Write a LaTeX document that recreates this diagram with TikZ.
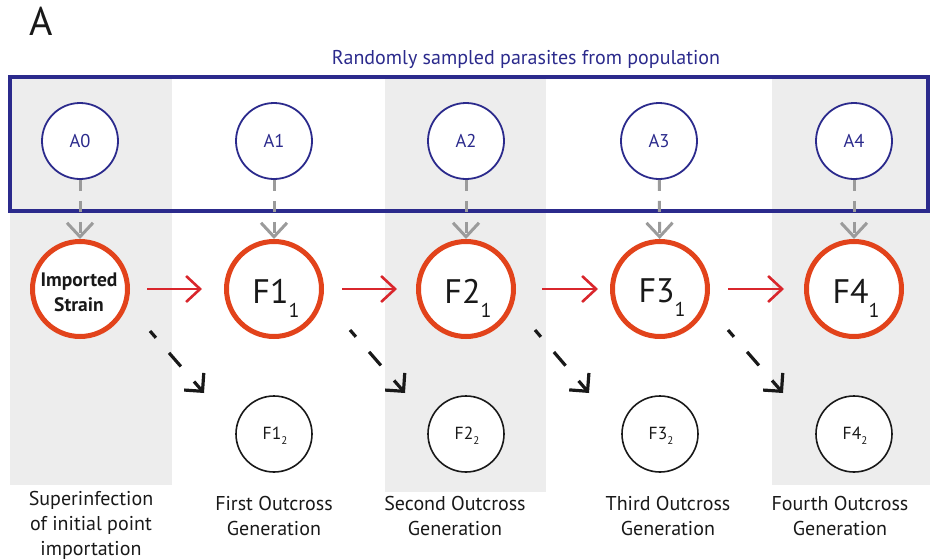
\documentclass[tikz,border=0pt]{standalone}
\usepackage{fontspec}
\setmainfont{PT Sans}
\usetikzlibrary{arrows.meta}
\definecolor{navy}{HTML}{2B2A8C}
\definecolor{ored}{HTML}{E2431B}
\definecolor{ared}{HTML}{D9262C}
\definecolor{band}{HTML}{EDEDED}
\definecolor{dgray}{HTML}{9B9B9B}
\newcommand{\bigF}[1]{\fontsize{34}{34}\selectfont F#1\raisebox{-14pt}{\fontsize{20}{20}\selectfont 1}}
\newcommand{\smallF}[1]{\fontsize{17.5}{17.5}\selectfont F#1\raisebox{-5pt}{\fontsize{11}{11}\selectfont 2}}
\begin{document}
\begin{tikzpicture}[x=1pt,y=-1pt,
  acirc/.style={circle,draw=navy,line width=1.8pt,fill=white,minimum size=76pt,inner sep=0pt,text=navy,font=\fontsize{18.5}{18.5}\selectfont},
  fcirc/.style={circle,draw=ored,line width=5pt,fill=white,minimum size=95pt,inner sep=0pt},
  scirc/.style={circle,draw=black!90,line width=1.6pt,fill=white,minimum size=76pt,inner sep=0pt},
  ftext/.style={inner sep=0pt,text=black!90},
  samp/.style={draw=dgray,line width=3pt,dash pattern=on 11pt off 10pt,-{Straight Barb[length=14pt,width=26pt,line width=3pt]}},
  cross/.style={draw=ared,line width=2.6pt,-{Straight Barb[length=14pt,width=26pt,line width=2.6pt]}},
  outx/.style={draw=black!90,line width=3.2pt,dash pattern=on 18pt off 20pt,dash phase=9pt,-{Straight Barb[length=13pt,width=26pt,line width=3.2pt]}},
  glabel/.style={align=center,font=\fontsize{20}{25}\selectfont,text=black!90,inner sep=0pt}]
\useasboundingbox (0,0) rectangle (930,560);
% bands
\fill[band] (10,78) rectangle (172,485);
\fill[band] (385,78) rectangle (546,492);
\fill[band] (772,78) rectangle (930,485);
% header
\node[font=\fontsize{40}{40}\selectfont,text=black!90,inner sep=0pt] (lab) at (41,21) {A};
\node[font=\fontsize{20}{20}\selectfont,text=navy,inner sep=0pt] (title) at (526,59) {Randomly sampled parasites from population};
\draw[navy,line width=3.5pt] (10,77) rectangle (928,211);
% sample circles
\node[acirc] (A0) at (80,141) {A0};
\node[acirc] (A1) at (274,141) {A1};
\node[acirc] (A2) at (466,141) {A2};
\node[acirc] (A3) at (659,141) {A3};
\node[acirc] (A4) at (854,141) {A4};
% F1 circles
\node[fcirc] (F0) at (80,289) {};
\node[fcirc] (F1) at (274,289) {};
\node[fcirc] (F2) at (466,289) {};
\node[fcirc] (F3) at (660,289) {};
\node[fcirc] (F4) at (854,289) {};
\node[ftext,align=center,font=\fontsize{19.5}{25}\selectfont\bfseries] (t0) at (79,292) {Imported\\Strain};
\node[ftext] (t1) at (276,298) {\bigF{1}};
\node[ftext] (t2) at (468,298) {\bigF{2}};
\node[ftext] (t3) at (662,298) {\bigF{3}};
\node[ftext] (t4) at (856,298) {\bigF{4}};
% F2 circles
\node[scirc] (S1) at (274,434) {};
\node[scirc] (S2) at (466,434) {};
\node[scirc] (S3) at (660,434) {};
\node[scirc] (S4) at (854,434) {};
\node[ftext] (s1) at (275,436) {\smallF{1}};
\node[ftext] (s2) at (467,436) {\smallF{2}};
\node[ftext] (s3) at (661,436) {\smallF{3}};
\node[ftext] (s4) at (855,436) {\smallF{4}};
% sampling arrows
\foreach \i in {0,...,4}{\draw[samp] (A\i) -- (F\i);}
% outcross arrows
\draw[cross,shorten <=17pt,shorten >=22pt] (F0) -- (F1);
\draw[cross,shorten <=18pt,shorten >=19pt] (F1) -- (F2);
\draw[cross,shorten <=26pt,shorten >=12pt] (F2) -- (F3);
\draw[cross,shorten <=18pt,shorten >=20pt] (F3) -- (F4);
% dashed black arrows
\coordinate (d0s) at (150,331); \coordinate (d0e) at (204,393);
\coordinate (d1s) at (350,330); \coordinate (d1e) at (405,393);
\coordinate (d2s) at (535,330); \coordinate (d2e) at (589,393);
\coordinate (d3s) at (728,330); \coordinate (d3e) at (783,393);
\foreach \i in {0,...,3}{\draw[outx] (d\i s) -- (d\i e);}
% generation labels
\node[glabel,anchor=north] (g0) at (91,491) {Superinfection\\of initial point\\importation};
\node[glabel,anchor=north] (g1) at (274,496) {First Outcross\\Generation};
\node[glabel,anchor=north] (g2) at (455,496) {Second Outcross\\Generation};
\node[glabel,anchor=north] (g3) at (668,496) {Third Outcross\\Generation};
\node[glabel,anchor=north] (g4) at (840,496) {Fourth Outcross\\Generation};
\end{tikzpicture}
\end{document}
